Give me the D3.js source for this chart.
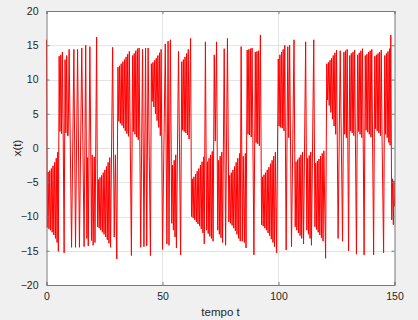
<!DOCTYPE html>
<html>
<head>
<meta charset="utf-8">
<script src="https://cdn.jsdelivr.net/npm/d3@7/dist/d3.min.js"></script>
<style>
  body { margin: 0; background: #f0f0f0; }
  text { font-family: Arial, "Liberation Sans", sans-serif; fill: #262626; }
</style>
</head>
<body>
<svg id="chart"></svg>
<script>
// turning points of x(t), [t, x]
var seg1 = [[0,15.8],[0.35,-11.6],[0.7,-3.5],[1.05,-11.8],[1.4,-3.3],[1.75,-12.0],[2.1,-3.0],[2.45,-12.3],[2.8,-2.6],[3.15,-12.7],[3.5,-2.1],[3.85,-13.2],[4.2,-1.5],[4.55,-13.8],[4.85,-0.6],[5.1,-15.1],[5.45,13.4],[5.8,2.4],[6.15,13.6],[6.5,2.1],[6.85,14.0],[7.2,1.6],[7.6,-15.3],[8.0,12.9],[8.35,2.2],[8.7,13.5],[9.05,1.8],[9.35,1.8],[9.75,14.4],[10.8,-14.5],[11.8,14.4],[12.5,-14.5],[13.4,14.4],[14.2,-14.5],[15.2,14.6],[16.2,-14.4],[16.9,15.0],[17.4,-13.2],[17.7,-1.4],[18.0,-14.3],[18.7,14.8],[19.4,-13.5],[19.7,-1.0],[20.1,-14.2],[20.6,-1.3],[20.9,-13.8],[21.6,16.2],[22.0,-11.5],[22.35,-4.6],[22.7,-11.7],[23.05,-4.3],[23.4,-12.0],[23.75,-4.0],[24.1,-12.3],[24.45,-3.6],[24.8,-12.6],[25.15,-3.2],[25.5,-13.0],[25.85,-2.7],[26.2,-13.4],[26.55,-2.1],[26.9,-13.9],[27.25,-1.4],[27.6,-14.5],[28.5,14.7],[29.2,-13.0],[29.7,-1.0],[30.3,-16.2]];

var seg2 = [[30.8,11.8],[31.15,3.9],[31.5,12.0],[31.85,3.6],[32.2,12.3],[32.55,3.3],[32.9,12.6],[33.25,2.9],[33.6,12.9],[33.95,2.5],[34.3,13.3],[34.65,2.1],[35.0,13.7],[35.35,1.7],[35.7,14.1],[36.6,-15.7],[37.1,13.5],[37.45,2.4],[37.8,13.8],[38.15,2.0],[38.5,14.2],[38.85,1.6],[39.2,14.5],[39.55,1.2],[39.9,14.6],[40.6,-14.5],[41.4,14.4],[42.0,-14.4],[42.7,14.6],[43.2,-14.3],[43.8,14.6],[44.3,-1.2],[44.8,-15.7],[45.2,12.3],[45.55,6.8],[45.9,12.5],[46.25,6.0],[46.6,12.8],[46.95,5.0],[47.3,13.1],[47.65,4.0],[48.0,13.5],[48.35,3.0],[48.7,13.9],[49.05,1.8],[49.4,14.4],[50.0,-14.8],[51.2,15.2],[51.9,-14.0],[52.4,15.6],[52.8,-14.2],[53.4,15.8],[54.0,-11.0],[54.35,-2.5],[54.7,-12.0],[55.05,-1.8],[55.4,-13.0],[55.7,-1.0],[56.0,-14.6],[56.9,14.1],[57.8,-15.6],[58.3,12.6],[58.65,2.6],[59.0,12.9],[59.35,2.4],[59.7,13.3],[60.05,2.2],[60.4,13.8],[60.75,1.9],[61.1,14.4],[61.45,1.3],[62.1,16.0]];

var seg3 = [[62.5,-10.0],[62.85,-4.5],[63.2,-10.2],[63.55,-4.2],[63.9,-10.5],[64.25,-3.8],[64.6,-10.8],[64.95,-3.4],[65.3,-11.1],[65.65,-3.0],[66.0,-11.4],[66.35,-2.5],[66.7,-11.8],[67.05,-2.0],[67.4,-12.4],[67.75,-1.3],[68.0,-14.0],[68.5,15.5],[69.0,-12.0],[69.35,-2.0],[69.7,-12.5],[70.05,-1.5],[70.4,-12.9],[70.75,-1.0],[71.1,-13.2],[71.45,-0.5],[71.8,-13.6],[72.3,13.6],[72.75,1.0],[73.3,15.5],[73.8,-12.0],[74.15,-1.8],[74.5,-12.6],[74.85,-1.2],[75.2,-13.1],[75.55,-0.6],[75.9,-13.8],[76.6,14.5],[77.2,-14.2],[78.0,16.0],[78.6,-10.8],[78.95,-4.0],[79.3,-11.0],[79.65,-3.6],[80.0,-11.3],[80.35,-3.2],[80.7,-11.7],[81.05,-2.7],[81.4,-12.1],[81.75,-2.1],[82.1,-12.6],[82.45,-1.5],[82.8,-13.2],[83.2,-0.8],[83.5,-13.6],[83.9,14.8],[84.4,-13.6],[84.8,-1.2],[85.3,-13.8],[85.7,-0.8],[86.0,-14.6],[86.5,14.3],[86.85,2.0],[87.2,14.4],[87.55,1.9],[87.9,14.5],[88.25,1.6],[88.6,14.6],[89.4,-15.6],[90.0,14.0],[90.35,0.8],[90.7,14.1],[91.05,0.6],[91.4,14.2],[91.75,0.3],[92.2,16.5],[92.7,-11.2],[93.05,-4.2],[93.4,-11.4],[93.75,-3.9],[94.1,-11.7],[94.45,-3.6],[94.8,-12.0],[95.15,-3.2],[95.5,-12.4],[95.85,-2.8],[96.2,-12.8],[96.55,-2.3],[96.9,-13.3],[97.25,-1.8],[97.6,-13.8],[97.95,-1.2],[98.3,-14.4],[98.65,-0.6],[99.2,-15.3]];

var seg4 = [[99.9,13.0],[100.25,3.2],[100.6,13.6],[100.95,3.0],[101.3,14.0],[101.65,2.9],[102.0,14.4],[102.35,2.5],[102.7,15.0],[103.3,-14.9],[104.0,14.8],[104.4,1.5],[104.8,15.0],[105.6,-14.4],[106.7,15.8],[107.2,-11.5],[107.55,-2.0],[107.9,-12.0],[108.25,-1.7],[108.6,-12.4],[108.95,-1.4],[109.3,-12.8],[109.65,-1.0],[110.0,-13.2],[110.35,-0.6],[110.8,-14.0],[111.7,15.5],[112.2,-12.0],[112.55,-1.5],[112.9,-12.6],[113.25,-1.1],[113.6,-13.2],[113.9,-0.6],[114.2,-14.2],[115.2,15.8],[115.7,-11.5],[116.05,-2.2],[116.4,-11.9],[116.75,-1.9],[117.1,-12.3],[117.45,-1.6],[117.8,-12.7],[118.15,-1.2],[118.5,-13.1],[118.85,-0.8],[119.2,-13.6],[119.55,-0.4],[120.3,-16.1],[120.8,12.3],[121.15,7.0],[121.5,12.5],[121.85,6.2],[122.2,12.8],[122.55,5.2],[122.9,13.1],[123.25,4.2],[123.6,13.5],[123.95,3.2],[124.3,13.9],[124.65,2.0],[125.0,14.3],[125.7,-13.2],[126.6,14.2],[127.6,-13.6],[128.2,14.0],[128.55,2.0],[128.9,14.2],[129.25,1.5],[129.6,14.4],[130.2,-15.0],[130.7,13.5],[131.05,2.5],[131.4,13.8],[131.75,2.2],[132.1,14.0],[132.45,1.8],[132.8,14.3],[133.15,1.2],[133.6,-15.5],[134.1,13.6],[134.45,2.4],[134.8,13.9],[135.15,2.0],[135.5,14.2],[135.85,1.5],[136.2,14.5],[136.9,-15.6],[137.4,13.5],[137.75,2.6],[138.1,13.7],[138.45,2.3],[138.8,14.0],[139.15,2.0],[139.5,14.2],[139.85,1.6],[140.2,14.4],[141.0,-15.6],[141.5,13.4],[141.85,2.8],[142.2,13.6],[142.55,2.5],[142.9,13.8],[143.25,2.2],[143.6,14.0],[143.95,1.8],[144.3,14.3],[144.65,1.2],[145.3,-15.3],[145.8,13.5],[146.15,2.0],[146.5,13.8],[146.85,1.5],[147.2,14.1],[147.55,0.8],[147.9,14.5],[148.1,0.4],[148.4,16.5],[148.8,-10.5],[149.15,-4.5],[149.5,-11.2],[149.8,-4.8],[150,-8.5]];

var xTicks = [0, 50, 100, 150];
var yTicks = [-20, -15, -10, -5, 0, 5, 10, 15, 20];

var width = 418, height = 320;
var plotLeft = 46.5, plotRight = 394.5, plotTop = 11, plotBottom = 285;

var svg = d3.select("#chart")
  .attr("width", width)
  .attr("height", height);

var x = d3.scaleLinear().domain([0, 150]).range([plotLeft, plotRight]);
var y = d3.scaleLinear().domain([-20, 20]).range([plotBottom, plotTop]);

svg.append("rect")
  .attr("x", plotLeft).attr("y", plotTop)
  .attr("width", plotRight - plotLeft).attr("height", plotBottom - plotTop)
  .attr("fill", "#ffffff");

// grid
svg.append("g").selectAll("line")
  .data(xTicks.slice(1, -1)).enter().append("line")
  .attr("x1", function(d){ return x(d) }).attr("x2", function(d){ return x(d) })
  .attr("y1", plotTop).attr("y2", plotBottom)
  .attr("stroke", "#e3e3e3");
svg.append("g").selectAll("line")
  .data(yTicks.slice(1, -1)).enter().append("line")
  .attr("y1", function(d){ return Math.round(y(d)) + 0.5 }).attr("y2", function(d){ return Math.round(y(d)) + 0.5 })
  .attr("x1", plotLeft).attr("x2", plotRight)
  .attr("stroke", "#e3e3e3");

var data = seg1.concat(seg2, seg3, seg4);
var line = d3.line()
  .x(function(d){ return x(d[0]) })
  .y(function(d){ return y(d[1]) });

svg.append("path")
  .datum(data)
  .attr("d", line)
  .attr("fill", "none")
  .attr("stroke", "#ff0000")
  .attr("stroke-width", 1)
  .attr("stroke-linejoin", "miter")
  .attr("stroke-miterlimit", 10);

// axes, ticks pointing inward on all four sides
var xBottom = d3.axisBottom(x).tickValues(xTicks).tickSize(-3).tickPadding(8);
var xTop = d3.axisTop(x).tickValues(xTicks).tickSize(-3).tickFormat("");
var yLeft = d3.axisLeft(y).tickValues(yTicks).tickSize(-3).tickPadding(8);
var yRight = d3.axisRight(y).tickValues(yTicks).tickSize(-3).tickFormat("");

function styleAxis(g) {
  g.select(".domain").attr("stroke", "#7a7a7a");
  g.selectAll(".tick line").attr("stroke", "#7a7a7a");
  g.selectAll("text").attr("font-size", 10.5).attr("fill", "#262626")
    .attr("font-family", "Arial, 'Liberation Sans', sans-serif");
}

svg.append("g").attr("transform", "translate(0," + plotBottom + ")").call(xBottom).call(styleAxis);
svg.append("g").attr("transform", "translate(0," + plotTop + ")").call(xTop).call(styleAxis);
svg.append("g").attr("transform", "translate(" + plotLeft + ",0)").call(yLeft).call(styleAxis);
svg.append("g").attr("transform", "translate(" + plotRight + ",0)").call(yRight).call(styleAxis);

svg.append("text")
  .attr("x", (plotLeft + plotRight) / 2).attr("y", 316)
  .attr("text-anchor", "middle")
  .attr("font-size", 11.5)
  .text("tempo t");

svg.append("text")
  .attr("transform", "translate(21," + y(0) + ") rotate(-90)")
  .attr("text-anchor", "middle")
  .attr("font-size", 11.5)
  .text("x(t)");
</script>
</body>
</html>
